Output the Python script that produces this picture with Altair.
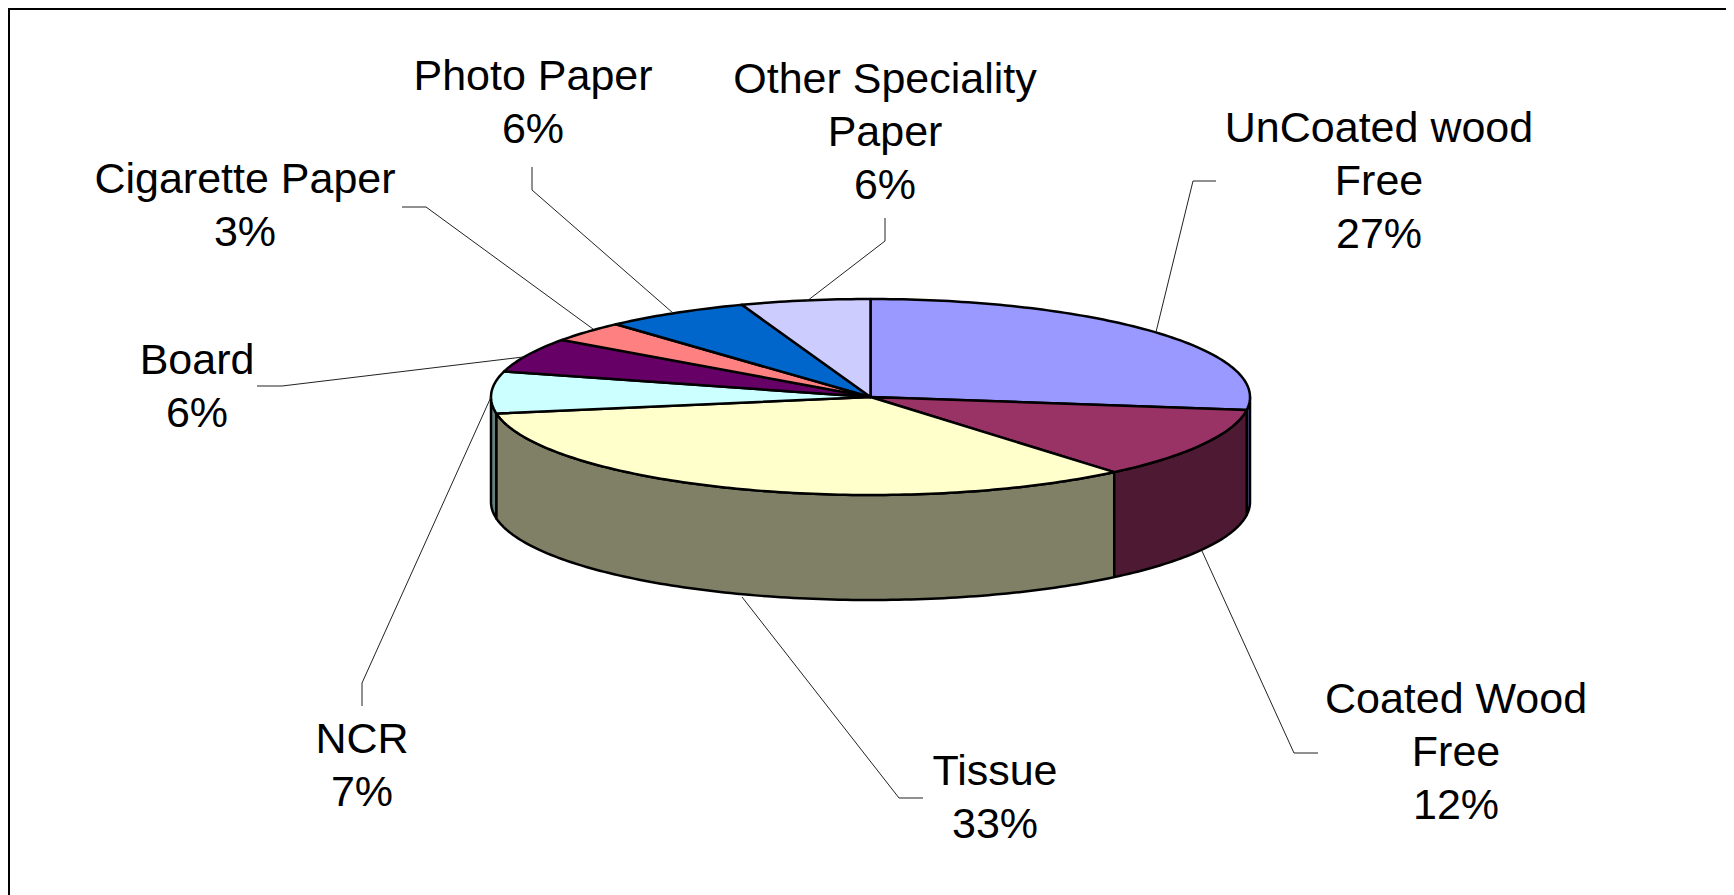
import math
import altair as alt
import pandas as pd

categories = ["UnCoated wood Free", "Coated Wood Free", "Tissue", "NCR", "Board",
              "Cigarette Paper", "Photo Paper", "Other Speciality Paper"]
shares = [27.1, 11.8, 33.4, 6.9, 5.7, 3.4, 6.2, 5.5]
top_colors = ["#9999FF", "#993366", "#FFFFCC", "#CCFFFF", "#660066", "#FF8080", "#0066CC", "#CCCCFF"]
side_colors = ["#4D4D80", "#4D1933", "#808066", "#668080", "#330033", "#804040", "#003366", "#666680"]
label_texts = ["UnCoated wood\nFree\n27%", "Coated Wood\nFree\n12%", "Tissue\n33%", "NCR\n7%",
               "Board\n6%", "Cigarette Paper\n3%", "Photo Paper\n6%", "Other Speciality\nPaper\n6%"]

W, H = 1718, 887
CX, CY, RX, RY = 862.5, 389.0, 379.5, 98.0
DEPTH = 105.0 / RY
x_domain = [-CX / RX, (W - CX) / RX]
y_domain = [(CY - H) / RY, CY / RY]


def ux(px):
    return (px - 8 - CX) / RX


def uy(py):
    return (CY - (py - 8)) / RY


# label centre and first baseline, page pixels
label_x = [1379, 1456, 995, 362, 197, 245, 533, 885]
label_y = [142, 713, 785, 753, 374, 193, 90, 93]
leaders = [
    [(1216, 181), (1193, 181), (1156, 332)],
    [(1318, 753), (1294, 753), (1202, 551)],
    [(923, 798), (899, 798), (742, 597)],
    [(362, 706), (362, 683), (491, 397)],
    [(257, 386), (282, 386), (523, 357)],
    [(402, 207), (426, 207), (593, 329)],
    [(532, 167), (532, 190), (673, 313)],
    [(885, 218), (885, 241), (807, 301)],
]


def angles(a0, a1):
    n = max(2, int(abs(a1 - a0) / 1.0) + 1)
    return [a0 + (a1 - a0) * i / n for i in range(n + 1)]


def pt(deg):
    r = math.radians(deg)
    return math.sin(r), math.cos(r)


X = alt.X("x:Q", scale=alt.Scale(domain=x_domain, nice=False, zero=False), axis=None)
Y = alt.Y("y:Q", scale=alt.Scale(domain=y_domain, nice=False, zero=False), axis=None)


def polygon(points, fill, width=2.5):
    df = pd.DataFrame([{"x": p[0], "y": p[1], "i": i} for i, p in enumerate(points)])
    return alt.Chart(df).mark_line(
        fill=fill, stroke="black", strokeWidth=width, interpolate="linear-closed",
        strokeJoin="round", clip=False,
    ).encode(x=X, y=Y, order="i:Q")


layers = []
edges = [0.0]
for s in shares:
    edges.append(edges[-1] + s * 3.6)

# side walls
for k in [0, 3, 2, 1]:
    a0, a1 = max(edges[k], 90.0), min(edges[k + 1], 270.0)
    if a1 <= a0:
        continue
    arc = [pt(a) for a in angles(a0, a1)]
    pts = arc + [(x, y - DEPTH) for x, y in reversed(arc)]
    layers.append(polygon(pts, side_colors[k]))

# top face
for k in range(len(shares)):
    pts = [(0.0, 0.0)] + [pt(a) for a in angles(edges[k], edges[k + 1])]
    layers.append(polygon(pts, top_colors[k]))

# leader lines
rows = []
for k, line in enumerate(leaders):
    for i, (px, py) in enumerate(line):
        rows.append({"x": ux(px), "y": uy(py), "i": i, "k": categories[k]})
layers.append(alt.Chart(pd.DataFrame(rows)).mark_line(color="#222222", strokeWidth=1).encode(
    x=X, y=Y, order="i:Q", detail="k:N"))

# labels
labels = pd.DataFrame({"x": [ux(v) for v in label_x], "y": [uy(v) for v in label_y], "t": label_texts})
layers.append(alt.Chart(labels).mark_text(
    font="Liberation Sans", fontSize=43, color="black", align="center", baseline="alphabetic",
    lineBreak="\n", lineHeight=53,
).encode(x=X, y=Y, text="t:N"))

# outer frame
layers.append(alt.Chart(pd.DataFrame({"a": [0]})).mark_rule(color="black", strokeWidth=2).encode(
    x=alt.value(0), x2=alt.value(W), y=alt.value(1)))
layers.append(alt.Chart(pd.DataFrame({"a": [0]})).mark_rule(color="black", strokeWidth=2).encode(
    y=alt.value(0), y2=alt.value(H), x=alt.value(1)))

chart = alt.layer(*layers).properties(
    width=W, height=H, padding=0, background="white",
    autosize=alt.AutoSizeParams(type="none"),
).configure_view(stroke=None)

chart.save("out.html", embed_options={"renderer": "svg", "actions": False})
